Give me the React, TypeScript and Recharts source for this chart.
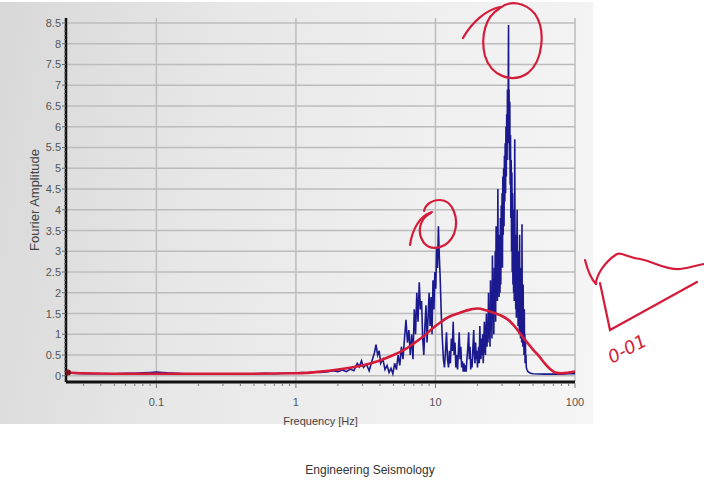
import { LineChart, Line, XAxis, YAxis, CartesianGrid } from 'recharts'

// blue: Fourier amplitude spectrum, [frequency Hz, amplitude]
const blueLow: [number, number][] = [
  [0.0225, 0.1], [0.025, 0.06], [0.03, 0.05], [0.04, 0.05], [0.05, 0.05], [0.06, 0.06], [0.07, 0.06], [0.08, 0.07],
  [0.09, 0.08], [0.1, 0.09], [0.11, 0.08], [0.12, 0.07], [0.14, 0.06], [0.16, 0.05], [0.18, 0.04], [0.2, 0.04],
  [0.25, 0.04], [0.3, 0.04], [0.4, 0.05], [0.5, 0.05], [0.6, 0.06], [0.7, 0.05], [0.8, 0.06], [0.9, 0.07],
  [1.0, 0.06], [1.1, 0.08], [1.2, 0.07], [1.35, 0.09], [1.5, 0.08], [1.7, 0.1], [1.85, 0.12], [2.0, 0.1],
  [2.15, 0.14], [2.3, 0.1], [2.45, 0.16], [2.6, 0.12], [2.75, 0.3], [2.85, 0.22], [2.95, 0.36], [3.05, 0.2],
  [3.2, 0.28], [3.35, 0.12], [3.5, 0.35], [3.65, 0.55], [3.75, 0.75], [3.85, 0.5], [3.95, 0.6], [4.05, 0.3],
  [4.2, 0.4], [4.35, 0.15], [4.5, 0.25], [4.65, 0.08], [4.8, 0.18], [4.95, 0.05],
]
const blueMid: [number, number][] = [
  [5.1, 0.3], [5.25, 0.15], [5.4, 0.5], [5.55, 0.25], [5.7, 0.7], [5.85, 0.4], [6.0, 0.9], [6.15, 1.35],
  [6.3, 0.8], [6.45, 1.1], [6.6, 0.5], [6.75, 1.0], [6.9, 0.4], [7.05, 1.6], [7.2, 1.0], [7.35, 2.0],
  [7.5, 1.3], [7.65, 2.25], [7.8, 1.6], [7.95, 1.8], [8.1, 0.9], [8.25, 0.5], [8.4, 1.2], [8.55, 1.7],
  [8.7, 0.8], [8.85, 1.4], [9.0, 2.0], [9.15, 1.2], [9.3, 1.9], [9.45, 1.0], [9.6, 2.3], [9.75, 1.6],
  [9.9, 2.5], [10.05, 2.1], [10.2, 3.1], [10.35, 2.6], [10.5, 3.6], [10.65, 2.9], [10.8, 2.4], [11.0, 1.5],
  [11.2, 0.9], [11.4, 0.4], [11.6, 0.2], [11.8, 0.6], [12.0, 1.05], [12.2, 0.4], [12.4, 0.2], [12.6, 0.6],
  [12.8, 0.3], [13.0, 0.9], [13.2, 0.6], [13.4, 1.3], [13.6, 0.5], [13.8, 0.8], [14.0, 0.2], [14.2, 0.5],
  [14.4, 0.15], [14.6, 0.6], [14.8, 1.05], [15.0, 0.4], [15.2, 0.7], [15.4, 0.2], [15.6, 0.35], [15.8, 0.1],
  [16.0, 0.3], [16.2, 0.1], [16.4, 0.25], [16.6, 0.1], [16.8, 0.4], [17.0, 0.6], [17.3, 1.05], [17.5, 0.4],
  [17.7, 0.7], [17.9, 0.15], [18.1, 0.4], [18.3, 0.2], [18.5, 0.6], [18.8, 1.1], [19.0, 0.5], [19.2, 0.3],
  [19.4, 0.8], [19.6, 0.4], [19.8, 0.6], [20.0, 0.2], [20.2, 0.5], [20.4, 0.7], [20.6, 0.3], [20.8, 1.2],
  [21.0, 0.6], [21.2, 0.4], [21.4, 0.9], [21.6, 0.5], [21.8, 1.0], [22.0, 0.3], [22.2, 0.8], [22.4, 1.3],
  [22.6, 0.7], [22.8, 0.5], [23.0, 1.1], [23.2, 1.5], [23.4, 0.7], [23.6, 1.2], [23.8, 0.8],
]
const bluePeak: [number, number][] = [
  [24.0, 2.0], [24.2, 0.9], [24.4, 1.6], [24.6, 0.7], [24.8, 2.3], [25.0, 1.1], [25.2, 1.8], [25.4, 0.9],
  [25.6, 2.9], [25.8, 1.4], [26.0, 2.2], [26.2, 1.0], [26.4, 2.6], [26.6, 1.5], [26.8, 3.0], [27.0, 1.3],
  [27.2, 3.6], [27.4, 2.0], [27.6, 3.0], [27.8, 1.8], [28.0, 4.5], [28.2, 2.2], [28.4, 3.4], [28.6, 1.9],
  [28.8, 3.3], [29.0, 2.0], [29.2, 3.8], [29.4, 2.2], [29.6, 4.1], [29.8, 2.8], [30.0, 4.4], [30.2, 2.6],
  [30.4, 4.8], [30.6, 3.4], [30.8, 5.0], [31.0, 3.6], [31.2, 5.3], [31.4, 4.2], [31.6, 5.6], [31.8, 4.4],
  [32.0, 6.0], [32.2, 4.8], [32.4, 6.3], [32.6, 5.2], [32.8, 6.9], [33.0, 5.6], [33.2, 6.8], [33.4, 8.45],
  [33.5, 6.3], [33.7, 6.9], [33.9, 5.2], [34.1, 6.6], [34.3, 4.6], [34.5, 5.8], [34.7, 3.8], [34.9, 5.2],
  [35.1, 3.0], [35.3, 4.9], [35.5, 2.5], [35.7, 4.4], [35.9, 2.2], [36.1, 4.0], [36.3, 2.0], [36.5, 3.6],
  [36.7, 1.8], [36.9, 3.9], [37.0, 5.7], [37.2, 2.2], [37.4, 3.4], [37.6, 1.6], [37.8, 3.2], [38.0, 1.4],
  [38.2, 2.8], [38.5, 4.0], [38.7, 1.6], [38.9, 2.4], [39.1, 1.2], [39.3, 3.0], [39.5, 1.4], [39.7, 2.2],
  [39.9, 1.0], [40.1, 3.4], [40.3, 1.3], [40.5, 2.0], [40.7, 0.9], [40.9, 2.6], [41.1, 1.0], [41.3, 1.8],
  [41.5, 0.8], [41.7, 3.65], [41.9, 1.2], [42.1, 2.0], [42.3, 0.7], [42.5, 2.2], [42.7, 0.8], [42.9, 1.4],
  [43.1, 0.5], [43.3, 1.6], [43.5, 0.5], [43.7, 1.0], [43.9, 0.3], [44.1, 0.9], [44.3, 0.3], [44.5, 0.5],
  [44.8, 0.2], [45.2, 0.15],
]
const blueTail: [number, number][] = [
  [46, 0.1], [48, 0.06], [50, 0.05], [60, 0.04], [70, 0.04], [80, 0.04], [90, 0.05], [100, 0.05],
]

// red: smoothed spectrum
const redFreq = [0.0225, 0.03, 0.05, 0.1, 0.2, 0.5, 1, 1.5, 2, 2.5, 3, 4, 5, 6, 7, 8, 10, 11, 12, 15, 18, 20, 23, 26, 30, 34, 38, 42, 46, 50, 55, 60, 66, 72, 80, 90, 100]
const redAmp = [0.08, 0.06, 0.05, 0.05, 0.05, 0.05, 0.06, 0.1, 0.15, 0.2, 0.25, 0.37, 0.5, 0.63, 0.78, 0.92, 1.2, 1.3, 1.39, 1.52, 1.6, 1.62, 1.58, 1.52, 1.44, 1.32, 1.14, 0.94, 0.78, 0.63, 0.48, 0.32, 0.17, 0.08, 0.06, 0.08, 0.1]

const xMajor = [0.1, 1, 10, 100]
const xMinor = [
  0.03, 0.04, 0.05, 0.06, 0.07, 0.08, 0.09, 0.2, 0.3, 0.4, 0.5, 0.6, 0.7, 0.8, 0.9,
  2, 3, 4, 5, 6, 7, 8, 9, 20, 30, 40, 50, 60, 70, 80, 90,
]
const yMajor = [0, 0.5, 1, 1.5, 2, 2.5, 3, 3.5, 4, 4.5, 5, 5.5, 6, 6.5, 7, 7.5, 8, 8.5]

const blueData = [...blueLow, ...blueMid, ...bluePeak, ...blueTail].map(([f, a]) => ({ f, a }))
const redData = redFreq.map((f, i) => ({ f, a: redAmp[i] }))
const xTicks = [...xMinor, ...xMajor].sort((a, b) => a - b)
const yTicks = Array.from({ length: 86 }, (_, i) => i / 10)

const RED = '#d41c3a'
const BLUE = '#1a1a8e'
const font = 'Liberation Sans, Arial, sans-serif'

const YTick = (props: any) => {
  const { x, y, payload } = props
  const v = payload.value
  const major = yMajor.some((m) => Math.abs(m - v) < 1e-6)
  const ax = x + 6
  return (
    <g>
      <line x1={ax - (major ? 4 : 2)} x2={ax} y1={y} y2={y} stroke="#666" strokeWidth={1} />
      {major && (
        <text x={ax - 5} y={y} dy={4} textAnchor="end" fontSize={11} fill="#555" fontFamily={font}>
          {v}
        </text>
      )}
    </g>
  )
}

const XTick = (props: any) => {
  const { x, y, payload } = props
  const v = payload.value
  const major = xMajor.includes(v)
  const ay = y - 6
  return (
    <g>
      <line x1={x} x2={x} y1={ay + 1} y2={ay + (major ? 6 : 4)} stroke="#777" strokeWidth={1} />
      {major && (
        <text x={x} y={ay + 24} textAnchor="middle" fontSize={11} fill="#555" fontFamily={font}>
          {v}
        </text>
      )}
    </g>
  )
}

const FirstDot = (props: any) => {
  const { cx, cy, index } = props
  if (index !== 0) return <g key={index} />
  return <circle key={index} cx={cx + 2} cy={cy} r={3} fill="#7a1020" />
}

export default function App() {
  return (
    <div style={{ position: 'absolute', left: 0, top: 0, width: 704, height: 483, background: '#fff', overflow: 'hidden' }}>
      <div
        style={{
          position: 'absolute',
          left: 0,
          top: 2,
          width: 593,
          height: 422,
          background: 'linear-gradient(100deg, #d8d8d8 0%, #e7e7e7 35%, #f0f0f0 70%, #f5f5f5 100%)',
        }}
      />
      <div style={{ position: 'absolute', left: 0, top: 0 }}>
        <LineChart width={704} height={483} margin={{ top: 18, right: 129, left: 0, bottom: 56 }}>
          <CartesianGrid
            stroke="#bcbcbc"
            strokeWidth={1.5}
            horizontalValues={yMajor}
            verticalValues={xMajor}
          />
          <XAxis
            dataKey="f"
            type="number"
            scale="log"
            domain={[0.0225, 100]}
            allowDataOverflow
            ticks={xTicks}
            interval={0}
            tick={<XTick />}
            tickLine={false}
            tickSize={0}
            tickMargin={6}
            height={45}
            axisLine={{ stroke: '#111', strokeWidth: 3 }}
            label={{ value: 'Frequency [Hz]', position: 'insideBottom', offset: 2, fontSize: 11, fill: '#444', fontFamily: font }}
          />
          <YAxis
            type="number"
            domain={[-0.15, 8.62]}
            allowDataOverflow
            ticks={yTicks}
            interval={0}
            tick={<YTick />}
            tickLine={false}
            tickSize={0}
            tickMargin={6}
            width={66}
            axisLine={{ stroke: '#111', strokeWidth: 2.5 }}
            label={{ value: 'Fourier Amplitude', angle: -90, position: 'insideLeft', offset: 34, textAnchor: 'middle', fontSize: 13, fill: '#444', fontFamily: font }}
          />
          <Line data={blueData} dataKey="a" type="linear" stroke={BLUE} strokeWidth={1.6} dot={false} isAnimationActive={false} />
          <Line data={redData} dataKey="a" type="monotone" stroke={RED} strokeWidth={2.6} dot={<FirstDot />} isAnimationActive={false} />
        </LineChart>
      </div>
      {/* hand-drawn annotations */}
      <svg width={704} height={483} style={{ position: 'absolute', left: 0, top: 0, pointerEvents: 'none' }}>
        <g fill="none" stroke={RED} strokeWidth={2.2} strokeLinecap="round">
          <path d="M 463 38 C 472 22, 486 10, 500 7" />
          <path d="M 499 9 C 486 16, 480 36, 485 56 C 491 76, 512 84, 528 73 C 543 61, 546 30, 535 14 C 525 2, 510 0, 500 8" />
          <path d="M 410 245 C 412 230, 420 215, 432 212" />
          <path d="M 431 213 C 420 218, 416 232, 424 243 C 432 252, 448 248, 454 234 C 460 218, 452 200, 440 200 C 430 200, 425 206, 424 211" />
          <path d="M 585 260 C 588 272, 592 280, 596 284" />
          <path d="M 596 284 C 596 276, 604 262, 617 254 C 622 252, 626 257, 640 259 C 655 262, 665 270, 680 269 C 690 268, 697 265, 704 264" />
          <path d="M 600 283 L 610 330 L 697 282" />
        </g>
        <text x={612} y={364} transform="rotate(-28 612 364)" fontSize={18} fill={RED} fontFamily="DejaVu Sans" fontStyle="italic">
          0-01
        </text>
      </svg>
      <div
        style={{
          position: 'absolute',
          top: 463,
          left: 0,
          width: 740,
          textAlign: 'center',
          fontSize: 12,
          color: '#333',
          fontFamily: font,
        }}
      >
        Engineering Seismology
      </div>
    </div>
  )
}
